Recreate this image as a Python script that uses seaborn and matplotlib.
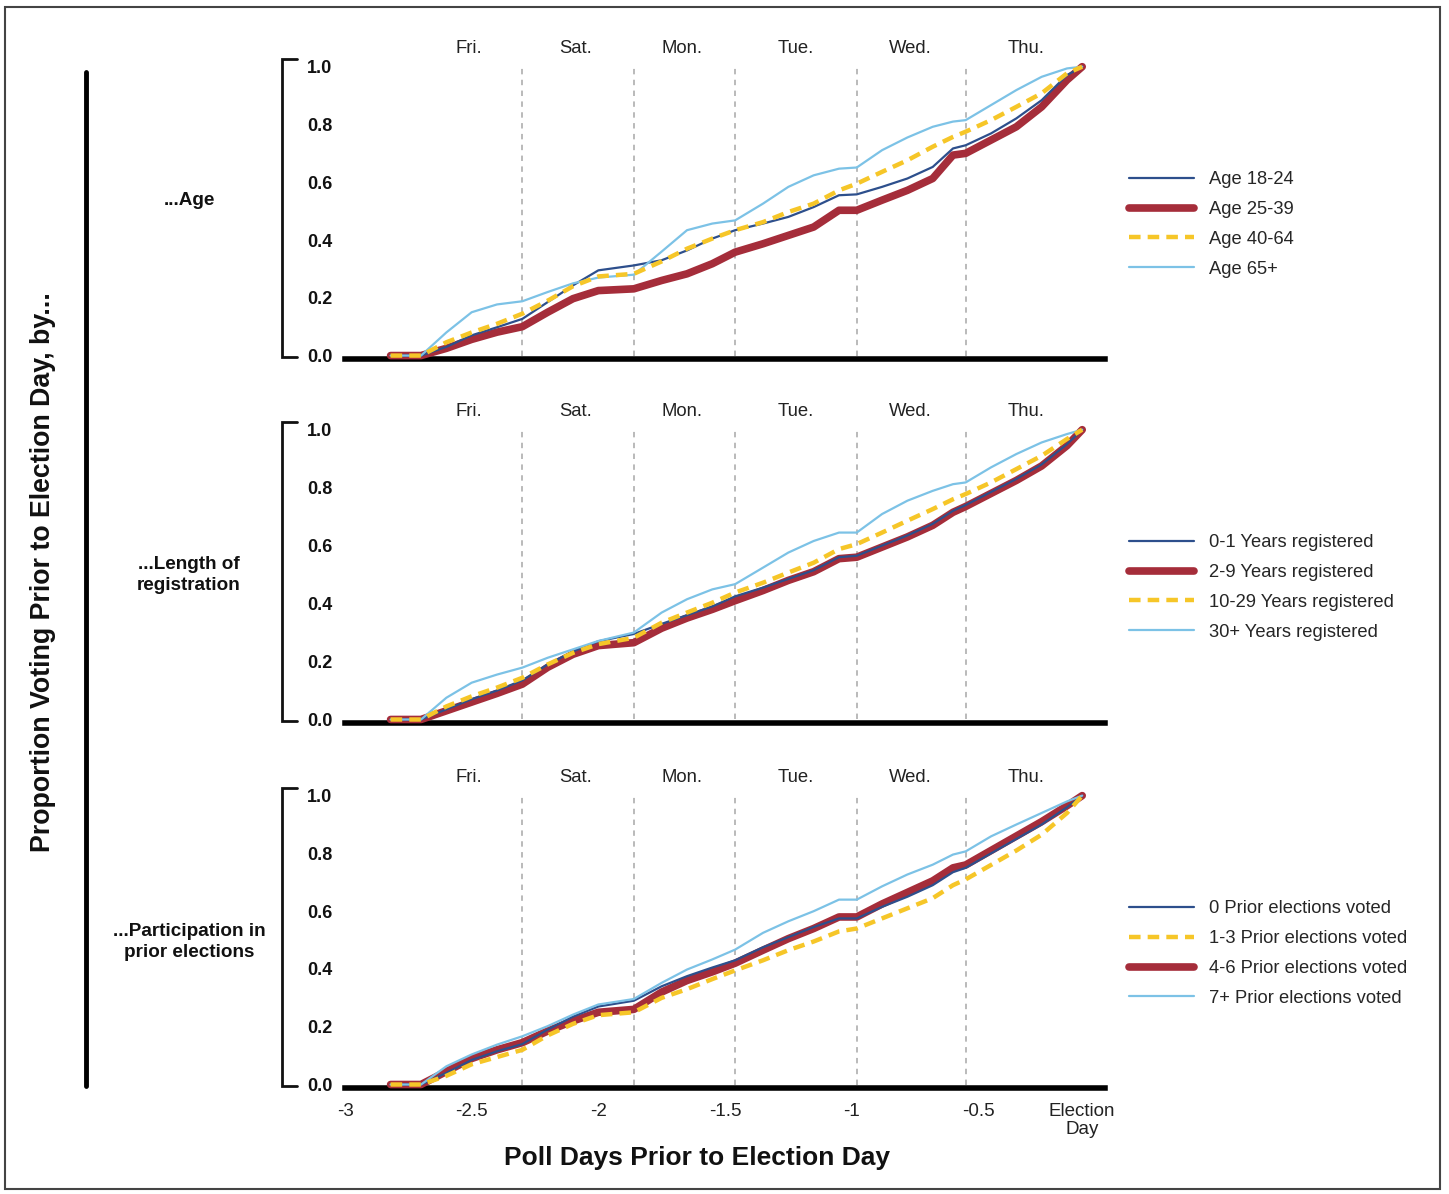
import matplotlib
matplotlib.use("Agg")
import matplotlib.pyplot as plt
import matplotlib.transforms as mtransforms
from matplotlib.lines import Line2D
from matplotlib.patches import Rectangle
import seaborn as sns

# poll days before election day (shared by every series)
days_before = [-2.82, -2.70, -2.60, -2.50, -2.40, -2.30, -2.20, -2.10, -2.00, -1.86,
               -1.75, -1.65, -1.55, -1.46, -1.35, -1.25, -1.15, -1.05, -0.98, -0.88,
               -0.78, -0.68, -0.60, -0.55, -0.45, -0.35, -0.25, -0.15, -0.09]

# ...Age
age_18_24 = [0, 0, 0.03, 0.07, 0.098, 0.127, 0.185, 0.243, 0.295, 0.312,
             0.33, 0.364, 0.405, 0.434, 0.457, 0.48, 0.514, 0.555, 0.558, 0.584,
             0.613, 0.653, 0.717, 0.728, 0.769, 0.821, 0.884, 0.971, 1.0]
age_25_39 = [0, 0, 0.025, 0.056, 0.081, 0.10, 0.15, 0.197, 0.225, 0.231,
             0.26, 0.283, 0.318, 0.358, 0.387, 0.416, 0.445, 0.503, 0.503, 0.538,
             0.572, 0.613, 0.694, 0.70, 0.746, 0.792, 0.861, 0.954, 1.0]
age_40_64 = [0, 0, 0.046, 0.08, 0.11, 0.145, 0.19, 0.24, 0.274, 0.283,
             0.326, 0.37, 0.405, 0.434, 0.462, 0.497, 0.526, 0.572, 0.595, 0.636,
             0.676, 0.723, 0.757, 0.775, 0.815, 0.861, 0.908, 0.977, 1.0]
age_65 = [0, 0, 0.08, 0.15, 0.177, 0.188, 0.22, 0.25, 0.27, 0.28,
          0.36, 0.434, 0.457, 0.468, 0.526, 0.584, 0.624, 0.647, 0.651, 0.711,
          0.755, 0.792, 0.81, 0.815, 0.867, 0.919, 0.965, 0.994, 1.0]

# ...Length of registration
reg_0_1 = [0, 0, 0.035, 0.07, 0.10, 0.135, 0.19, 0.235, 0.27, 0.295,
           0.33, 0.36, 0.39, 0.425, 0.455, 0.485, 0.515, 0.56, 0.565, 0.60,
           0.635, 0.675, 0.72, 0.74, 0.785, 0.83, 0.88, 0.95, 1.0]
reg_2_9 = [0, 0, 0.03, 0.06, 0.09, 0.122, 0.18, 0.225, 0.255, 0.265,
           0.315, 0.35, 0.38, 0.41, 0.445, 0.48, 0.51, 0.555, 0.56, 0.595,
           0.63, 0.67, 0.715, 0.735, 0.78, 0.825, 0.875, 0.945, 1.0]
reg_10_29 = [0, 0, 0.045, 0.08, 0.11, 0.144, 0.19, 0.23, 0.26, 0.282,
             0.334, 0.369, 0.403, 0.438, 0.472, 0.507, 0.541, 0.588, 0.605, 0.645,
             0.686, 0.726, 0.76, 0.778, 0.818, 0.864, 0.91, 0.968, 1.0]
reg_30 = [0, 0, 0.075, 0.127, 0.155, 0.179, 0.213, 0.242, 0.271, 0.30,
          0.369, 0.415, 0.449, 0.467, 0.524, 0.576, 0.616, 0.645, 0.645, 0.709,
          0.755, 0.789, 0.812, 0.818, 0.87, 0.916, 0.956, 0.985, 1.0]

# ...Participation in prior elections
prior_0 = [0, 0, 0.04, 0.085, 0.115, 0.14, 0.19, 0.235, 0.27, 0.29,
           0.34, 0.375, 0.405, 0.43, 0.475, 0.51, 0.545, 0.575, 0.575, 0.615,
           0.65, 0.69, 0.735, 0.75, 0.80, 0.85, 0.90, 0.96, 1.0]
prior_1_3 = [0, 0, 0.03, 0.07, 0.095, 0.12, 0.17, 0.21, 0.24, 0.25,
             0.30, 0.33, 0.365, 0.395, 0.43, 0.465, 0.495, 0.53, 0.54, 0.575,
             0.61, 0.645, 0.69, 0.71, 0.76, 0.81, 0.865, 0.94, 1.0]
prior_4_6 = [0, 0, 0.045, 0.09, 0.12, 0.145, 0.185, 0.22, 0.25, 0.26,
             0.32, 0.36, 0.39, 0.42, 0.465, 0.505, 0.54, 0.58, 0.58, 0.625,
             0.665, 0.705, 0.75, 0.76, 0.81, 0.86, 0.91, 0.965, 1.0]
prior_7 = [0, 0, 0.063, 0.104, 0.138, 0.167, 0.202, 0.242, 0.277, 0.296,
           0.352, 0.398, 0.433, 0.467, 0.525, 0.565, 0.60, 0.64, 0.64, 0.686,
           0.727, 0.761, 0.796, 0.807, 0.859, 0.90, 0.94, 0.98, 1.0]

day_bounds = [-2.30, -1.86, -1.46, -0.98, -0.55]
day_names = ["Fri.", "Sat.", "Mon.", "Tue.", "Wed.", "Thu."]
day_label_x = [-2.51, -2.09, -1.67, -1.22, -0.77, -0.31]
x_ticks = [-3, -2.5, -2, -1.5, -1, -0.5, -0.09]
x_ticklabels = ["-3", "-2.5", "-2", "-1.5", "-1", "-0.5", "Election\nDay"]

DARK = "#2d4f8c"
RED = "#a52d3a"
YELLOW = "#f6c628"
LIGHT = "#7cc2e6"

sns.set_style("white")
plt.rcParams["font.family"] = ["Liberation Sans", "DejaVu Sans"]

fig = plt.figure(figsize=(14.49, 11.94), dpi=100)

panels = [
    dict(rect=[0.2381, 0.6993, 0.5245, 0.2521], label="...Age", label_y=0.8317,
         leg_y=0.812,
         series=[("Age 18-24", age_18_24, "dark"), ("Age 25-39", age_25_39, "red"),
                 ("Age 40-64", age_40_64, "yellow"), ("Age 65+", age_65, "light")]),
    dict(rect=[0.2381, 0.3945, 0.5245, 0.2529], label="...Length of\nregistration",
         label_y=0.5184, leg_y=0.508,
         series=[("0-1 Years registered", reg_0_1, "dark"),
                 ("2-9 Years registered", reg_2_9, "red"),
                 ("10-29 Years registered", reg_10_29, "yellow"),
                 ("30+ Years registered", reg_30, "light")]),
    dict(rect=[0.2381, 0.0888, 0.5245, 0.2521],
         label="...Participation in\nprior elections", label_y=0.211, leg_y=0.2014,
         series=[("0 Prior elections voted", prior_0, "dark"),
                 ("1-3 Prior elections voted", prior_1_3, "yellow"),
                 ("4-6 Prior elections voted", prior_4_6, "red"),
                 ("7+ Prior elections voted", prior_7, "light")]),
]

styles = {
    "red": dict(color=RED, lw=5.5, zorder=3),
    "dark": dict(color=DARK, lw=1.6, zorder=4),
    "light": dict(color=LIGHT, lw=1.6, zorder=5),
    "yellow": dict(color=YELLOW, lw=3.2, zorder=6),
}
draw_order = ["red", "dark", "light", "yellow"]

for i, p in enumerate(panels):
    ax = fig.add_axes(p["rect"])
    ax.set_xlim(-3.0, 0.0)
    ax.set_ylim(-0.012, 1.03)

    # day separators
    ax.vlines(day_bounds, 0, 1.0, colors="#b4b4b4", linestyles=(0, (3, 3)), lw=1.3,
              zorder=1)
    for name, dx in zip(day_names, day_label_x):
        ax.text(dx, 1.062, name, ha="center", va="center", fontsize=13.3,
                color="#222222", clip_on=False)

    handles = {}
    for kind in draw_order:
        for lab, vals, k in p["series"]:
            if k != kind:
                continue
            st = styles[k]
            sns.lineplot(x=days_before, y=vals, ax=ax, color=st["color"], lw=st["lw"],
                         estimator=None, sort=False, legend=False)
            line = ax.lines[-1]
            line.set_zorder(st["zorder"])
            line.set_clip_on(False)
            if k == "yellow":
                line.set_dashes((2.6, 1.6))
            handles[lab] = line

    # y axis drawn as a bracket
    ax.set_yticks([0, 0.2, 0.4, 0.6, 0.8, 1.0])
    ax.set_yticklabels(["0.0", "0.2", "0.4", "0.6", "0.8", "1.0"],
                       fontweight="bold", fontsize=13)
    ax.tick_params(axis="y", length=0, pad=9, colors="#111111")
    trans = mtransforms.blended_transform_factory(ax.transAxes, ax.transData)
    ax.plot([-0.063, -0.083, -0.083, -0.063], [1.025, 1.025, -0.004, -0.004],
            transform=trans, color="#111111", lw=2, clip_on=False,
            solid_joinstyle="miter")

    for s in ["top", "right", "left"]:
        ax.spines[s].set_visible(False)
    ax.spines["bottom"].set_linewidth(4)
    ax.spines["bottom"].set_color("black")

    ax.set_xticks(x_ticks)
    if i == 2:
        ax.set_xticklabels(x_ticklabels, fontsize=13.5, color="#222222", linespacing=1.05)
        ax.tick_params(axis="x", length=0, pad=11)
    else:
        ax.set_xticklabels([])
        ax.tick_params(axis="x", length=0)
    ax.set_xlabel("")
    ax.set_ylabel("")

    labels = [s[0] for s in p["series"]]
    ax.legend([handles[l] for l in labels], labels, loc="center left",
              bbox_to_anchor=(0.779, p["leg_y"]), bbox_transform=fig.transFigure,
              frameon=False, fontsize=13.2, handlelength=3.55, handletextpad=0.8,
              labelspacing=0.7, borderpad=0, borderaxespad=0)

    fig.text(0.1304, p["label_y"], p["label"], ha="center", va="center",
             fontsize=13.6, fontweight="bold", color="#111111", linespacing=1.3)

fig.text(0.0297, 0.521, "Proportion Voting Prior to Election Day, by...", rotation=90,
         ha="center", va="center", fontsize=19.3, fontweight="bold", color="#111111")
fig.text(0.481, 0.0302, "Poll Days Prior to Election Day", ha="center", va="center",
         fontsize=19, fontweight="bold", color="#111111")

fig.add_artist(Line2D([0.0594, 0.0594], [1 - 72 / 1194, 1 - 1086 / 1194],
                      color="black", lw=3.5, transform=fig.transFigure))
fig.add_artist(Rectangle((0.0035, 0.004), 0.9905, 0.9905, fill=False,
                         edgecolor="#444444", lw=1.5, transform=fig.transFigure))

fig.savefig("out.png", dpi=100)
